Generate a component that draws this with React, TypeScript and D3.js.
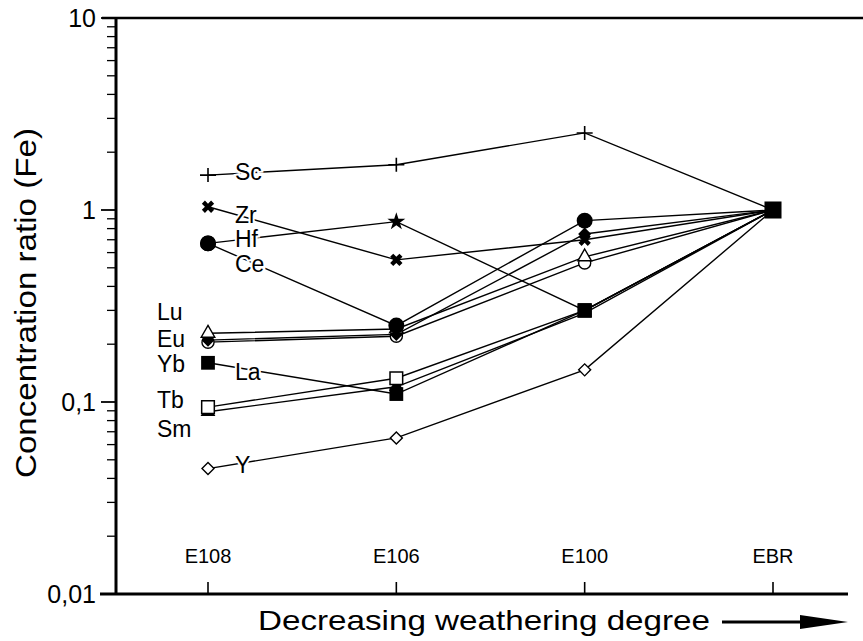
import * as d3 from 'd3';
import React, { useEffect, useRef } from 'react';

// sampling sites, most weathered first
const categories = ['E108', 'E106', 'E100', 'EBR'];
const yTicks = [0.01, 0.1, 1, 10];
const yTickLabels = ['0,01', '0,1', '1', '10'];

// concentration ratios normalised to Fe and to EBR
const sc = [1.52, 1.72, 2.52, 1];
const zr = [1.04, 0.55, 0.7, 1];
const hf = [0.67, 0.87, 0.3, 1];
const ce = [0.67, 0.25, 0.88, 1];
const lu = [0.228, 0.24, 0.57, 1];
const eu = [0.21, 0.225, 0.75, 1];
const yb = [0.205, 0.22, 0.53, 1];
const la = [0.16, 0.11, 0.3, 1];
const tb = [0.094, 0.133, 0.3, 1];
const sm = [0.089, 0.12, 0.29, 1];
const yy = [0.045, 0.065, 0.147, 1];

const elements = ['Sc', 'Zr', 'Hf', 'Ce', 'Lu', 'Eu', 'Yb', 'La', 'Tb', 'Sm', 'Y'];
const values = [sc, zr, hf, ce, lu, eu, yb, la, tb, sm, yy];
// marker drawn at E108, E106, E100 (EBR gets the common big square)
const marks = [
  ['plus', 'plus', 'plus'],
  ['times', 'times', 'times'],
  ['dot', 'star', 'box'],
  ['dot', 'dot', 'dot'],
  ['tri', 'tri', 'tri'],
  ['diam', 'diam', 'diam'],
  ['ring', 'ring', 'ring'],
  ['box', 'box', 'box'],
  ['sq', 'sq', 'sq'],
  ['triFill', 'triFill', 'triFill'],
  ['dia', 'dia', 'dia'],
];

// label placement next to E108: side and baseline offset from marker
const labelPos: any = {
  Sc: ['r', 5], Zr: ['r', 16], Hf: ['r', 4], Ce: ['r', 29], La: ['r', 17], Y: ['r', 4],
  Lu: ['l', -13], Eu: ['l', 7], Yb: ['l', 30], Tb: ['l', 1], Sm: ['l', 25],
};

const W = 863;
const H = 641;
const FONT = '"Liberation Sans", Arial, Helvetica, sans-serif';

function drawMark(g, type, x, y) {
  const sym = (t, size, rot = 0) =>
    g.append('path')
      .attr('d', d3.symbol().type(t).size(size)())
      .attr('transform', `translate(${x},${y}) rotate(${rot})`);
  if (type === 'plus') {
    g.append('path')
      .attr('d', `M${x - 8},${y}H${x + 8}M${x},${y - 7}V${y + 7}`)
      .attr('stroke', '#000').attr('stroke-width', 1.6).attr('fill', 'none');
  } else if (type === 'times') {
    sym(d3.symbolCross, 95, 45).attr('fill', '#000');
  } else if (type === 'dot') {
    sym(d3.symbolCircle, 200).attr('fill', '#000');
  } else if (type === 'star') {
    sym(d3.symbolStar, 100).attr('fill', '#000');
  } else if (type === 'box') {
    sym(d3.symbolSquare, 190).attr('fill', '#000');
  } else if (type === 'sq') {
    sym(d3.symbolSquare, 160).attr('fill', '#fff').attr('stroke', '#000').attr('stroke-width', 1.5);
  } else if (type === 'tri') {
    sym(d3.symbolTriangle, 80).attr('fill', '#fff').attr('stroke', '#000').attr('stroke-width', 1.4);
  } else if (type === 'triFill') {
    sym(d3.symbolTriangle, 95).attr('fill', '#000');
  } else if (type === 'ring') {
    sym(d3.symbolCircle, 115).attr('fill', '#fff').attr('stroke', '#000').attr('stroke-width', 1.4);
  } else if (type === 'diam') {
    sym(d3.symbolSquare, 85, 45).attr('fill', '#000');
  } else if (type === 'dia') {
    sym(d3.symbolSquare, 72, 45).attr('fill', '#fff').attr('stroke', '#000').attr('stroke-width', 1.4);
  }
}

export default function App() {
  const ref = useRef<SVGSVGElement>(null);

  useEffect(() => {
    const svg = d3.select(ref.current);
    svg.selectAll('*').remove();

    const x = d3.scalePoint().domain(categories).range([208, 773]);
    const y = d3.scaleLog().domain([0.01, 10]).range([594, 18]);
    const left = 116;
    const bottom = 594;

    // frame
    svg.append('line').attr('x1', left - 14).attr('x2', W).attr('y1', 18).attr('y2', 18)
      .attr('stroke', '#000').attr('stroke-width', 2.5);
    svg.append('line').attr('x1', left).attr('x2', left).attr('y1', 17).attr('y2', bottom + 1)
      .attr('stroke', '#000').attr('stroke-width', 3);
    svg.append('line').attr('x1', left - 16).attr('x2', 848).attr('y1', bottom).attr('y2', bottom)
      .attr('stroke', '#000').attr('stroke-width', 3);

    // y ticks
    const minor: number[] = [];
    [0.01, 0.1, 1].forEach((d) => d3.range(2, 10).forEach((k) => minor.push(d * k)));
    svg.selectAll('.minor').data(minor).enter().append('line')
      .attr('x1', left - 9).attr('x2', left).attr('y1', (d) => y(d)).attr('y2', (d) => y(d))
      .attr('stroke', '#000').attr('stroke-width', 1.3);
    svg.selectAll('.major').data(yTicks).enter().append('line')
      .attr('x1', left - 15).attr('x2', left).attr('y1', (d) => y(d)).attr('y2', (d) => y(d))
      .attr('stroke', '#000').attr('stroke-width', 1.8);
    svg.selectAll('.ylab').data(yTicks).enter().append('text')
      .attr('x', 96).attr('y', (d) => y(d) + 9)
      .attr('text-anchor', 'end').attr('font-family', FONT).attr('font-size', 25)
      .text((d, i) => yTickLabels[i]);

    // x ticks
    svg.selectAll('.xt').data(categories).enter().append('line')
      .attr('x1', (d) => x(d)).attr('x2', (d) => x(d)).attr('y1', bottom - 12).attr('y2', bottom)
      .attr('stroke', '#000').attr('stroke-width', 1.6);
    svg.selectAll('.xlab').data(categories).enter().append('text')
      .attr('x', (d) => x(d)).attr('y', 563)
      .attr('text-anchor', 'middle').attr('font-family', FONT).attr('font-size', 20)
      .text((d) => d);

    // axis titles
    svg.append('text')
      .attr('transform', 'translate(36,303) rotate(-90)')
      .attr('text-anchor', 'middle').attr('font-family', FONT).attr('font-size', 29)
      .attr('textLength', 350).attr('lengthAdjust', 'spacingAndGlyphs')
      .text('Concentration ratio (Fe)');
    svg.append('text')
      .attr('x', 258).attr('y', 630).attr('font-family', FONT).attr('font-size', 28)
      .attr('textLength', 452).attr('lengthAdjust', 'spacingAndGlyphs')
      .text('Decreasing weathering degree');
    svg.append('line').attr('x1', 722).attr('x2', 805).attr('y1', 622).attr('y2', 622)
      .attr('stroke', '#000').attr('stroke-width', 3);
    svg.append('path').attr('d', 'M800,615L848,622L800,629Z').attr('fill', '#000');

    // series lines
    const line = d3.line<number>()
      .x((d, i) => x(categories[i]) as number)
      .y((d) => y(d));
    svg.selectAll('.series').data(values).enter().append('path')
      .attr('d', (d) => line(d))
      .attr('fill', 'none').attr('stroke', '#000').attr('stroke-width', 1.4);

    // labels
    const lab = svg.append('g');
    elements.forEach((name, i) => {
      const [side, dy] = labelPos[name];
      lab.append('text')
        .attr('x', side === 'r' ? 235 : 157)
        .attr('y', y(values[i][0]) + dy)
        .attr('font-family', FONT).attr('font-size', 23)
        .attr('stroke', side === 'r' ? '#fff' : 'none').attr('stroke-width', 4)
        .attr('paint-order', 'stroke').attr('fill', '#000')
        .text(name);
    });

    // markers, drawn bottom-up so the upper ones sit on top
    const mg = svg.append('g');
    for (let i = values.length - 1; i >= 0; i--) {
      for (let j = 0; j < 3; j++) {
        drawMark(mg, marks[i][j], x(categories[j]) as number, y(values[i][j]));
      }
    }
    mg.append('path')
      .attr('d', d3.symbol().type(d3.symbolSquare).size(290)())
      .attr('transform', `translate(${x('EBR')},${y(1)})`)
      .attr('fill', '#000');
  }, []);

  return (
    <svg
      ref={ref}
      width={W}
      height={H}
      style={{ position: 'absolute', left: 0, top: 0, background: '#fff' }}
    />
  );
}
